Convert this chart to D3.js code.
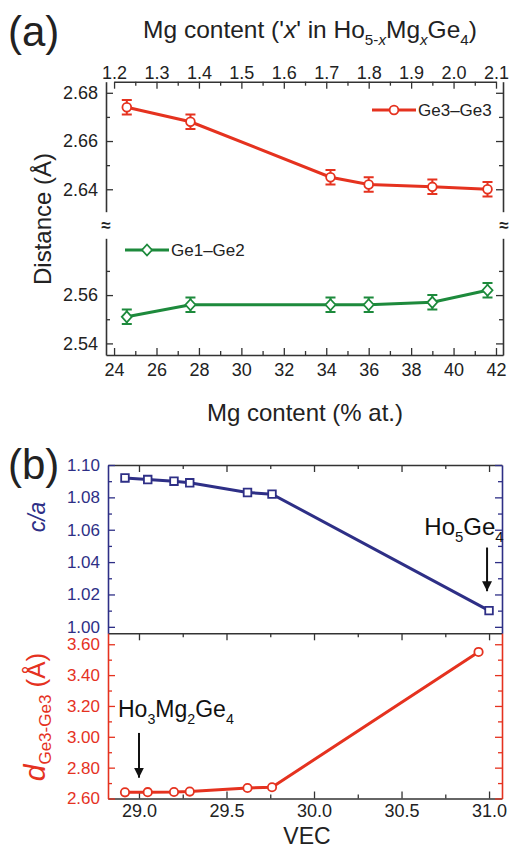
<!DOCTYPE html>
<html>
<head>
<meta charset="utf-8">
<script src="https://cdn.jsdelivr.net/npm/d3@7"></script>
<style>
  body { margin: 0; background: #fff; }
  svg { font-family: "Liberation Sans", Arial, sans-serif; }
</style>
</head>
<body>
<svg id="chart" width="510" height="849"></svg>
<script>
// ---- panel (a): Ge-Ge distances vs Mg content
const mgPct = [24.6, 27.6, 34.2, 36.0, 39.0, 41.6]
const ge3ge3 = [2.674, 2.668, 2.645, 2.642, 2.641, 2.640]
const ge1ge2 = [2.551, 2.556, 2.556, 2.556, 2.557, 2.562]
const distErr = [0.003, 0.003, 0.003, 0.003, 0.003, 0.003]
const mgTicks = [24, 26, 28, 30, 32, 34, 36, 38, 40, 42]
const xTicks = [1.2, 1.3, 1.4, 1.5, 1.6, 1.7, 1.8, 1.9, 2.0, 2.1]
const distTicksHigh = [2.64, 2.66, 2.68]
const distTicksLow = [2.54, 2.56]

// ---- panel (b): c/a and Ge3-Ge3 distance vs VEC
const vecCa = [28.92, 29.05, 29.2, 29.29, 29.62, 29.76, 31.0]
const ca = [1.092, 1.091, 1.090, 1.089, 1.083, 1.082, 1.010]
const vecD = [28.92, 29.05, 29.2, 29.29, 29.62, 29.76, 30.94]
const dGe3 = [2.640, 2.641, 2.642, 2.645, 2.668, 2.673, 3.55]
const vecTicks = [29.0, 29.5, 30.0, 30.5, 31.0]
const caTicks = [1.00, 1.02, 1.04, 1.06, 1.08, 1.10]
const dTicks = [2.60, 2.80, 3.00, 3.20, 3.40, 3.60]

const RED = "#e5321f", GREEN = "#1d8a3c", NAVY = "#2e2f86", INK = "#222", AX = "#333"

const svg = d3.select("#chart")

// rich text with subscripts / italics
function rich(sel, parts, fs) {
  let off = 0
  parts.forEach(p => {
    const shift = p.sub ? (p.shift || fs * 0.3) : 0
    sel.append("tspan")
      .attr("dy", shift - off)
      .attr("font-size", p.fs || (p.sub ? fs * 0.62 : fs))
      .attr("font-style", p.it ? "italic" : null)
      .text(p.t)
    off = shift
  })
  return sel
}

function drawAxis(gen, t, o = {}) {
  const g = svg.append("g").attr("transform", t).call(gen)
  g.select(".domain").attr("stroke", o.line || AX).attr("stroke-width", 1.6)
  if (o.noDomain) g.select(".domain").remove()
  g.selectAll(".tick line").attr("stroke", o.line || AX).attr("stroke-width", 1.3)
  g.selectAll(".tick text").attr("fill", o.text || INK)
    .attr("font-size", o.size || 18).attr("font-family", "Liberation Sans, Arial, sans-serif")
  return g
}

const range = (a, b, s) => d3.range(a, b + s / 2, s).map(v => +v.toFixed(3))

// ======================= (a)
const A = {l: 106, r: 503, t: 81.7, b: 355}
const x = d3.scaleLinear().domain([23.62, 42.33]).range([A.l, A.r])
const xTop = d3.scaleLinear().domain([1.2, 2.1]).range([x(24), x(42)])
const yHi = d3.scaleLinear().domain([2.6307, 2.6846]).range([211.7, A.t])
const yLo = d3.scaleLinear().domain([2.5352, 2.5835]).range([A.b, 238.3])

// frame top/bottom
drawAxis(d3.axisBottom(x).tickValues(mgTicks).tickSize(-7).tickSizeOuter(0).tickPadding(8), `translate(0,${A.b})`)
drawAxis(d3.axisBottom(x).tickValues(range(25, 41, 2)).tickSize(-4).tickFormat(""), `translate(0,${A.b})`, {noDomain: true})
drawAxis(d3.axisTop(xTop).tickValues(xTicks).tickSize(-7).tickSizeOuter(0).tickPadding(3).tickFormat(d3.format(".1f")), `translate(0,${A.t})`)
drawAxis(d3.axisTop(xTop).tickValues(range(1.25, 2.05, 0.1)).tickSize(-4).tickFormat(""), `translate(0,${A.t})`, {noDomain: true})

// broken y axes, left and right
;[[yHi, distTicksHigh, [2.65, 2.67]], [yLo, distTicksLow, [2.55, 2.57]]].forEach(([ys, maj, mnr]) => {
  drawAxis(d3.axisLeft(ys).tickValues(maj).tickSize(-7).tickSizeOuter(0).tickPadding(8).tickFormat(d3.format(".2f")), `translate(${A.l},0)`)
  drawAxis(d3.axisLeft(ys).tickValues(mnr).tickSize(-4).tickFormat(""), `translate(${A.l},0)`, {noDomain: true})
  drawAxis(d3.axisRight(ys).tickValues(maj).tickSize(-7).tickSizeOuter(0).tickFormat(""), `translate(${A.r},0)`)
  drawAxis(d3.axisRight(ys).tickValues(mnr).tickSize(-4).tickFormat(""), `translate(${A.r},0)`, {noDomain: true})
})
;[A.l, A.r + 1].forEach(px => {
  svg.append("text").attr("x", px).attr("y", 225).attr("text-anchor", "middle")
    .attr("dominant-baseline", "central").attr("font-size", 17).attr("font-weight", "bold")
    .attr("fill", INK).text("≈")
})

function series(xs, ys, yScale, err, color, marker) {
  const pts = xs.map((v, i) => ({x: v, y: ys[i], e: err ? err[i] : 0}))
  svg.append("path").datum(pts)
    .attr("d", d3.line().x(d => x(d.x)).y(d => yScale(d.y)))
    .attr("fill", "none").attr("stroke", color).attr("stroke-width", 3)
  const g = svg.append("g").selectAll("g").data(pts).join("g")
    .attr("transform", d => `translate(${x(d.x)},${yScale(d.y)})`)
  g.append("path")
    .attr("d", d => {
      const t = yScale(d.y + d.e) - yScale(d.y), b = yScale(d.y - d.e) - yScale(d.y)
      return `M-5,${t}H5M0,${t}V${b}M-5,${b}H5`
    })
    .attr("stroke", color).attr("stroke-width", 2).attr("fill", "none")
  g.append("path").attr("d", marker)
    .attr("fill", "#fff").attr("stroke", color).attr("stroke-width", 1.8)
}

const circle = d3.symbol(d3.symbolCircle, 60)()
const diamond = "M0,-5.5L5,0L0,5.5L-5,0Z"
const square = "M-3.8,-3.8H3.8V3.8H-3.8Z"

series(mgPct, ge3ge3, yHi, distErr, RED, circle)
series(mgPct, ge1ge2, yLo, distErr, GREEN, diamond)

// legends
function legend(x0, y0, color, marker, label) {
  svg.append("line").attr("x1", x0).attr("x2", x0 + 44).attr("y1", y0).attr("y2", y0)
    .attr("stroke", color).attr("stroke-width", 3)
  svg.append("path").attr("d", marker).attr("transform", `translate(${x0 + 22},${y0})`)
    .attr("fill", "#fff").attr("stroke", color).attr("stroke-width", 1.8)
  svg.append("text").attr("x", x0 + 46).attr("y", y0 + 6).attr("font-size", 17)
    .attr("fill", INK).text(label)
}
legend(372, 110, RED, circle, "Ge3\u2013Ge3")
legend(125, 250, GREEN, diamond, "Ge1\u2013Ge2")

// labels (a)
svg.append("text").attr("x", 8).attr("y", 46).attr("font-size", 42).attr("fill", INK).text("(a)")
rich(svg.append("text").attr("x", 310).attr("y", 38).attr("text-anchor", "middle").attr("fill", INK), [
  {t: "Mg content ('"}, {t: "x", it: true}, {t: "' in Ho"}, {t: "5-", sub: true}, {t: "x", sub: true, it: true},
  {t: "Mg"}, {t: "x", sub: true, it: true}, {t: "Ge"}, {t: "4", sub: true}, {t: ")"}
], 24.5)
svg.append("text").attr("transform", "translate(51,219) rotate(-90)").attr("text-anchor", "middle")
  .attr("font-size", 24).attr("fill", INK).text("Distance (Å)")
svg.append("text").attr("x", 305).attr("y", 421).attr("text-anchor", "middle")
  .attr("font-size", 24).attr("fill", INK).text("Mg content (% at.)")

// ======================= (b)
const B = {l: 108, r: 502, t: 465, m: 633.3, b: 798.5}
const xV = d3.scaleLinear().domain([28.823, 31.074]).range([B.l, B.r])
const yCa = d3.scaleLinear().domain([0.996, 1.10]).range([B.m, B.t])
const yD = d3.scaleLinear().domain([2.60, 3.671]).range([B.b, B.m])
const vMinor = range(29.25, 30.75, 0.5)

drawAxis(d3.axisBottom(xV).tickValues(vecTicks).tickSize(-7).tickSizeOuter(0).tickPadding(6).tickFormat(d3.format(".1f")), `translate(0,${B.b})`)
drawAxis(d3.axisBottom(xV).tickValues(vMinor).tickSize(-4).tickFormat(""), `translate(0,${B.b})`, {noDomain: true})
;[B.t, B.m].forEach(yy => {
  drawAxis(d3.axisTop(xV).tickValues(vecTicks).tickSize(-7).tickSizeOuter(0).tickFormat(""), `translate(0,${yy})`)
  drawAxis(d3.axisTop(xV).tickValues(vMinor).tickSize(-4).tickFormat(""), `translate(0,${yy})`, {noDomain: true})
})

const caMinor = range(1.01, 1.09, 0.02)
const dMinor = range(2.70, 3.50, 0.2)
drawAxis(d3.axisLeft(yCa).tickValues(caTicks).tickSize(-7).tickSizeOuter(0).tickPadding(8).tickFormat(d3.format(".2f")), `translate(${B.l},0)`, {line: NAVY, text: NAVY, size: 17})
drawAxis(d3.axisLeft(yCa).tickValues(caMinor).tickSize(-4).tickFormat(""), `translate(${B.l},0)`, {line: NAVY, noDomain: true})
drawAxis(d3.axisRight(yCa).tickValues(caTicks).tickSize(-7).tickSizeOuter(0).tickFormat(""), `translate(${B.r},0)`, {line: NAVY})
drawAxis(d3.axisRight(yCa).tickValues(caMinor).tickSize(-4).tickFormat(""), `translate(${B.r},0)`, {line: NAVY, noDomain: true})
drawAxis(d3.axisLeft(yD).tickValues(dTicks).tickSize(-7).tickSizeOuter(0).tickPadding(8).tickFormat(d3.format(".2f")), `translate(${B.l},0)`, {line: RED, text: RED, size: 17})
drawAxis(d3.axisLeft(yD).tickValues(dMinor).tickSize(-4).tickFormat(""), `translate(${B.l},0)`, {line: RED, noDomain: true})
drawAxis(d3.axisRight(yD).tickValues(dTicks).tickSize(-7).tickSizeOuter(0).tickFormat(""), `translate(${B.r},0)`, {line: RED})
drawAxis(d3.axisRight(yD).tickValues(dMinor).tickSize(-4).tickFormat(""), `translate(${B.r},0)`, {line: RED, noDomain: true})

function seriesB(xs, ys, yScale, color, marker) {
  const pts = xs.map((v, i) => [xV(v), yScale(ys[i])])
  svg.append("path").datum(pts).attr("d", d3.line())
    .attr("fill", "none").attr("stroke", color).attr("stroke-width", 3)
  svg.append("g").selectAll("path").data(pts).join("path")
    .attr("d", marker).attr("transform", d => `translate(${d[0]},${d[1]})`)
    .attr("fill", "#fff").attr("stroke", color).attr("stroke-width", 1.8)
}
seriesB(vecCa, ca, yCa, NAVY, square)
seriesB(vecD, dGe3, yD, RED, d3.symbol(d3.symbolCircle, 55)())

// annotations
svg.append("defs").append("marker").attr("id", "ah").attr("viewBox", "0 0 10 10")
  .attr("refX", 10).attr("refY", 5).attr("markerWidth", 5).attr("markerHeight", 5).attr("orient", "auto")
  .append("path").attr("d", "M0,0L10,5L0,10Z").attr("fill", "#111")
function arrow(px, y1, y2) {
  svg.append("line").attr("x1", px).attr("x2", px).attr("y1", y1).attr("y2", y2)
    .attr("stroke", "#111").attr("stroke-width", 2).attr("marker-end", "url(#ah)")
}
arrow(xV(31.0) - 2, yCa(1.049), yCa(1.022))
arrow(xV(29.0), yD(3.025), yD(2.735))
rich(svg.append("text").attr("x", 464).attr("y", 535).attr("text-anchor", "middle").attr("fill", "#111"), [
  {t: "Ho"}, {t: "5", sub: true}, {t: "Ge"}, {t: "4", sub: true}
], 24)
rich(svg.append("text").attr("x", 118).attr("y", 717).attr("fill", "#111"), [
  {t: "Ho"}, {t: "3", sub: true}, {t: "Mg"}, {t: "2", sub: true}, {t: "Ge"}, {t: "4", sub: true}
], 23)

svg.append("text").attr("x", 8).attr("y", 479).attr("font-size", 42).attr("fill", INK).text("(b)")
svg.append("text").attr("transform", "translate(45,517) rotate(-90)").attr("text-anchor", "middle")
  .attr("font-size", 23).attr("font-style", "italic").attr("fill", NAVY).text("c/a")
rich(svg.append("text").attr("transform", "translate(45,717) rotate(-90)").attr("text-anchor", "middle").attr("fill", RED), [
  {t: "d", it: true, fs: 30}, {t: "Ge3-Ge3", sub: true, fs: 17, shift: 6}, {t: " (Å)", fs: 26}
], 26)
svg.append("text").attr("x", 307).attr("y", 844).attr("text-anchor", "middle")
  .attr("font-size", 23).attr("fill", INK).text("VEC")
</script>
</body>
</html>
